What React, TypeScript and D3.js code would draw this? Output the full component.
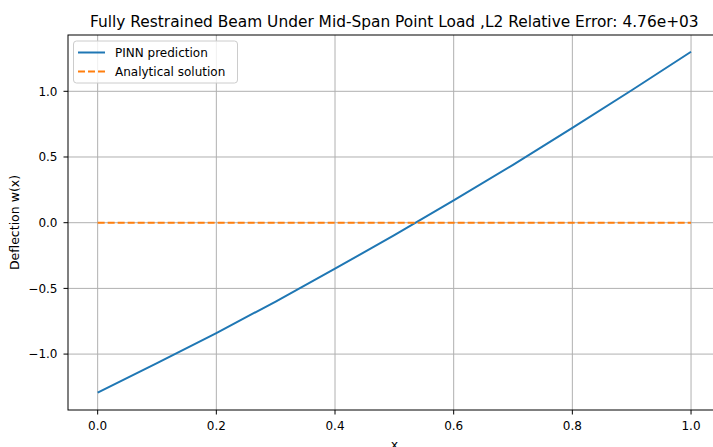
import React from "react";
import * as d3 from "d3";

const xs = [0, 0.1, 0.2, 0.3, 0.4, 0.5, 0.6, 0.7, 0.8, 0.9, 1.0];
const pinn = [-1.294, -1.068, -0.84, -0.6, -0.35, -0.095, 0.17, 0.44, 0.722, 1.008, 1.301];
const analytical = [0, 0, 0, 0, 0, 0, 0, 0, 0, 0, 0];
const xTicks = [0, 0.2, 0.4, 0.6, 0.8, 1.0];
const yTicks = [-1.0, -0.5, 0.0, 0.5, 1.0];
const title = "Fully Restrained Beam Under Mid-Span Point Load ,L2 Relative Error: 4.76e+03";

const W = 713, H = 447;
const left = 68, right = 720.7, top = 35, bottom = 410;

export default function App() {
  const x = d3.scaleLinear().domain([-0.05, 1.05]).range([left, right]);
  const y = d3.scaleLinear().domain([-1.4255, 1.4285]).range([bottom, top]);
  const line = d3.line<number>().x((_, i) => x(xs[i])).y((d) => y(d));
  const font = "DejaVu Sans, sans-serif";
  const cx = (left + right) / 2;
  return (
    <svg width={W} height={H} style={{ position: "absolute", left: 0, top: 0, display: "block" }} fontFamily={font}>
      <rect x={0} y={0} width={W} height={H} fill="white" />
      {xTicks.map((t) => (
        <line key={"gx" + t} x1={x(t)} x2={x(t)} y1={top} y2={bottom} stroke="#b0b0b0" strokeWidth={1} />
      ))}
      {yTicks.map((t) => (
        <line key={"gy" + t} x1={left} x2={right} y1={y(t)} y2={y(t)} stroke="#b0b0b0" strokeWidth={1} />
      ))}
      <path d={line(pinn) || ""} fill="none" stroke="#1f77b4" strokeWidth={2} />
      <path d={line(analytical) || ""} fill="none" stroke="#ff7f0e" strokeWidth={2} strokeDasharray="7,3" />
      <rect x={left} y={top} width={right - left} height={bottom - top} fill="none" stroke="black" strokeWidth={1} />
      {xTicks.map((t) => (
        <g key={"tx" + t}>
          <line x1={x(t)} x2={x(t)} y1={bottom} y2={bottom + 4.5} stroke="black" strokeWidth={1} />
          <text x={x(t)} y={429.5} fontSize={12} textAnchor="middle" fill="black">{t.toFixed(1)}</text>
        </g>
      ))}
      {yTicks.map((t) => (
        <g key={"ty" + t}>
          <line x1={left - 4.5} x2={left} y1={y(t)} y2={y(t)} stroke="black" strokeWidth={1} />
          <text x={57.5} y={y(t) + 4.3} fontSize={12} textAnchor="end" fill="black">{t < 0 ? "\u2212" + Math.abs(t).toFixed(1) : t.toFixed(1)}</text>
        </g>
      ))}
      <text x={cx} y={449} fontSize={12.5} textAnchor="middle" fill="black">x</text>
      <text transform={`translate(19,${(top + bottom) / 2}) rotate(-90)`} fontSize={12.5} textAnchor="middle" fill="black">Deflection w(x)</text>
      <text x={cx} y={27} fontSize={15.4} textAnchor="middle" fill="black">{title}</text>
      <g>
        <rect x={73.5} y={41} width={164} height={42} rx={3} fill="white" fillOpacity={0.8} stroke="#cccccc" strokeWidth={1} />
        <line x1={78} x2={105} y1={52.5} y2={52.5} stroke="#1f77b4" strokeWidth={2} />
        <text x={115} y={56.8} fontSize={12} fill="black">PINN prediction</text>
        <line x1={78} x2={105} y1={71.5} y2={71.5} stroke="#ff7f0e" strokeWidth={2} strokeDasharray="7,3" />
        <text x={115} y={75.8} fontSize={12} fill="black">Analytical solution</text>
      </g>
    </svg>
  );
}
